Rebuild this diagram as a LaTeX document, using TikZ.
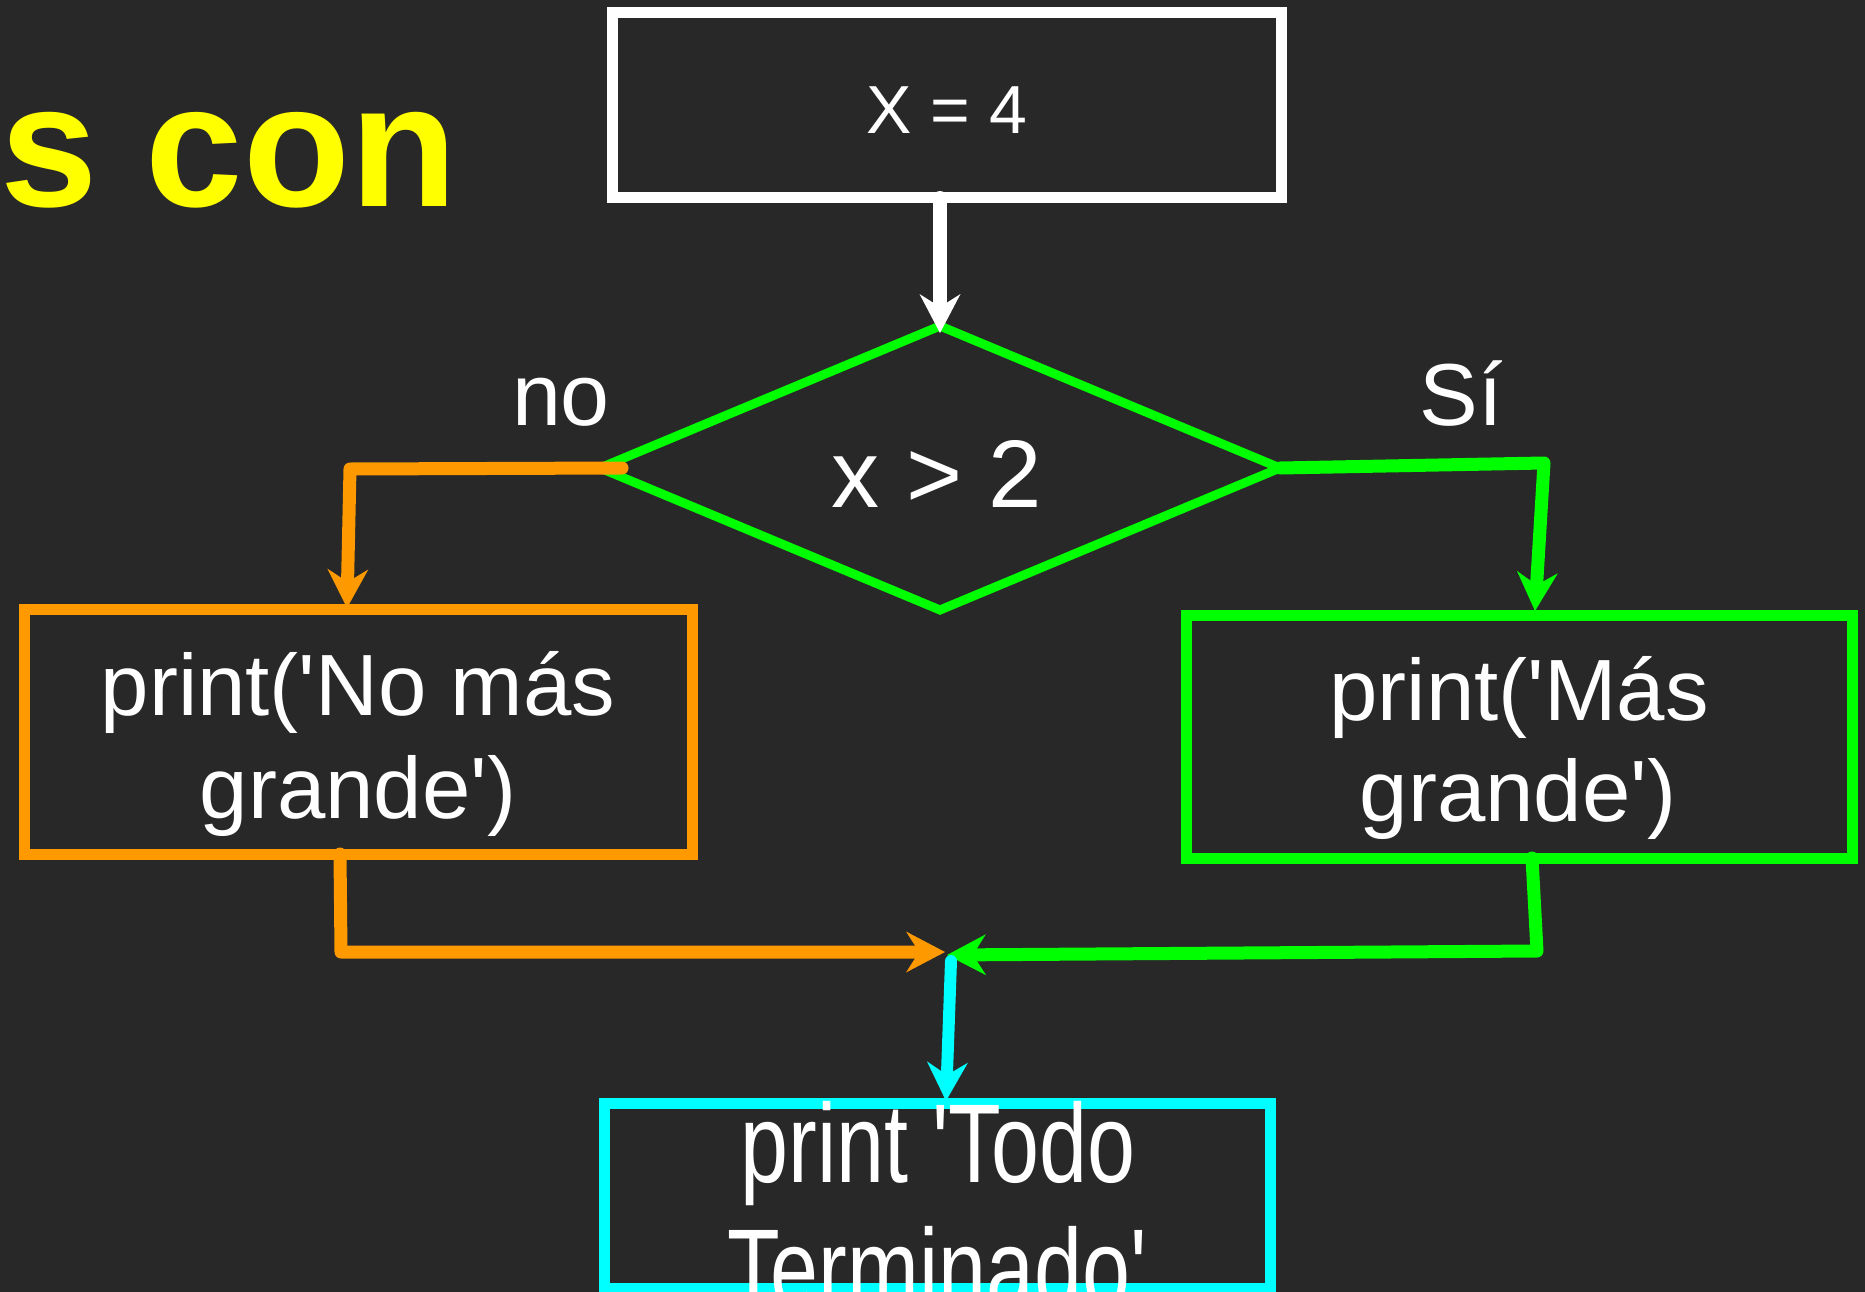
\documentclass[tikz,border=0pt]{standalone}
\usepackage{fontspec}
\setmainfont{Liberation Sans}[Ligatures=TeXOff]
\newfontfamily\condfont{Liberation Sans}[FakeStretch=0.77,Ligatures=TeXOff]
\usetikzlibrary{arrows.meta,shapes.geometric}
\definecolor{bg}{HTML}{282828}
\definecolor{cgreen}{HTML}{00FF00}
\definecolor{corange}{HTML}{FF9900}
\definecolor{ccyan}{HTML}{00FFFF}
\definecolor{cyellow}{HTML}{FFFF00}
\begin{document}
\begin{tikzpicture}[x=1pt,y=-1pt,
  box/.style={draw, line width=11pt, rectangle, inner sep=0pt, outer sep=0pt},
  conn/.style={line width=13pt, line cap=round, line join=round,
    -{Stealth[length=39pt,width=41pt,inset=13pt,line width=0pt]}},
  txt/.style={text=white, inner sep=0pt, anchor=base},
  boxtxt/.style={txt, font=\fontsize{87}{104}\selectfont},
]
\fill[bg] (0,0) rectangle (1865,1292);
\useasboundingbox (0,0) rectangle (1865,1292);
\clip (0,0) rectangle (1865,1292);

% title fragment
\node[anchor=base west, inner sep=0pt, text=cyellow,
      font=\bfseries\fontsize{175}{200}\selectfont] (title) at (0,207) {s con};

% boxes
\node[box, draw=white, minimum width=669pt, minimum height=185pt] (assign) at (946.5,105.5) {};
\node[draw=cgreen, line width=9pt, diamond, inner sep=0pt, outer sep=0pt,
      minimum width=680pt, minimum height=284pt] (cond) at (940,468) {};
\node[box, draw=corange, minimum width=668pt, minimum height=245pt] (nobox) at (358,731.5) {};
\node[box, draw=cgreen, minimum width=666pt, minimum height=243pt] (sibox) at (1519,736.5) {};
\node[box, draw=ccyan, minimum width=666pt, minimum height=185pt] (endbox) at (937,1195.5) {};

% connector points
\coordinate (noStart) at (622,468);
\coordinate (noCorner) at (350,469);
\coordinate (noTip) at (347,608);
\coordinate (siCorner) at (1544,463);
\coordinate (siTip) at (1535,611);
\coordinate (noOut) at (340,854);
\coordinate (noJoin) at (341,952);
\coordinate (mergeL) at (945,952);
\coordinate (siOut) at (1532,858);
\coordinate (siJoin) at (1537,951);
\coordinate (mergeR) at (947,955);
\coordinate (cyStart) at (951,961);
\coordinate (cyTip) at (946,1101);

% connectors
\draw[conn, white, line width=14pt] (assign.south -| cond.north) -- ([yshift=-7pt]cond.north);
\draw[conn, corange] (noStart) -- (noCorner) -- (noTip);
\draw[conn, cgreen] (cond.east) -- (siCorner) -- (siTip);
\draw[conn, corange] (noOut) -- (noJoin) -- (mergeL);
\draw[conn, cgreen] (siOut) -- (siJoin) -- (mergeR);
\draw[conn, ccyan, line width=12pt] (cyStart) -- (cyTip);

% texts
\node[txt, font=\fontsize{68}{80}\selectfont] (assigntxt) at (947,134) {X = 4};
\node[txt, font=\fontsize{96}{110}\selectfont] (condtxt) at (937,507) {x > 2};
\node[txt, font=\fontsize{88}{100}\selectfont] (nolbl) at (561,425) {no};
\node[txt, font=\fontsize{88}{100}\selectfont] (silbl) at (1461,425) {Sí};
\node[boxtxt] (notxta) at (358,715) {print('No más};
\node[boxtxt] (notxtb) at (358,818) {grande')};
\node[boxtxt] (sitxta) at (1519,720) {print('Más};
\node[boxtxt] (sitxtb) at (1518,821) {grande')};
\node[txt, font=\condfont\fontsize{112}{125}\selectfont] (endtxta) at (938,1182) {print 'Todo};
\node[txt, font=\condfont\fontsize{112}{125}\selectfont] (endtxtb) at (937,1307) {Terminado'};
\end{tikzpicture}
\end{document}
